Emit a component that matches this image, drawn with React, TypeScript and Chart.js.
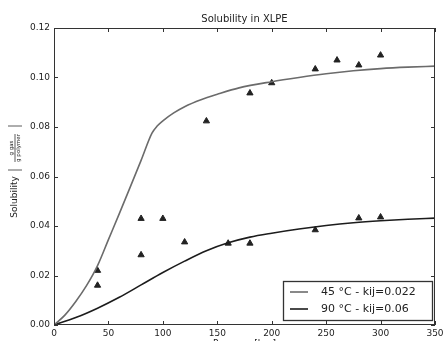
import React, { useEffect, useRef } from "react";
import { Chart, registerables } from "chart.js";

Chart.register(...registerables);

const titleText = "Solubility in XLPE";
const xTitleText = "Pressure [bar]";
const xTicks = [0, 50, 100, 150, 200, 250, 300, 350];
const yTicks = [0, 0.02, 0.04, 0.06, 0.08, 0.1, 0.12];

const label45 = "45 °C - kij=0.022";
const label90 = "90 °C - kij=0.06";

const fit45X = [0, 10, 20, 30, 40, 50, 60, 70, 80, 90, 95, 100, 110, 120, 135, 150, 170, 200, 225, 250, 275, 300, 325, 350];
const fit45Y = [0, 0.004, 0.0095, 0.016, 0.024, 0.0345, 0.045, 0.0557, 0.0665, 0.0775, 0.0805, 0.0825, 0.0857, 0.0882, 0.091, 0.0932, 0.0958, 0.0983, 0.1, 0.1015, 0.1027, 0.1036, 0.1042, 0.1046];

const fit90X = [0, 20, 40, 60, 80, 100, 120, 140, 160, 180, 200, 225, 250, 275, 300, 325, 350];
const fit90Y = [0, 0.003, 0.0068, 0.0112, 0.0162, 0.0212, 0.0258, 0.03, 0.0332, 0.0355, 0.0371, 0.0388, 0.0402, 0.0413, 0.0421, 0.0427, 0.0432];

const pts45X = [40, 80, 100, 140, 180, 200, 240, 260, 280, 300];
const pts45Y = [0.022, 0.043, 0.043, 0.0824, 0.0937, 0.0978, 0.1034, 0.107, 0.105, 0.109];

const pts90X = [40, 80, 120, 160, 180, 240, 280, 300];
const pts90Y = [0.016, 0.0283, 0.0335, 0.033, 0.033, 0.0384, 0.0432, 0.0436];

const color45 = "#6b6b6b";
const color90 = "#1c1c1c";
const pointColor = "#222222";
const FONT = "'DejaVu Sans', sans-serif";

const zip = (xs: number[], ys: number[]) => xs.map((x, i) => ({ x, y: ys[i] }));

const framePlugin = {
  id: "frame",
  afterDraw(chart: any) {
    const { ctx, chartArea } = chart;
    const { left, right, top, bottom } = chartArea;
    const xs = chart.scales.x;
    const ys = chart.scales.y;
    ctx.save();
    // frame
    ctx.strokeStyle = "#333";
    ctx.lineWidth = 1;
    ctx.strokeRect(left + 0.5, top + 0.5, right - left - 1, bottom - top - 1);
    // inward ticks on all sides
    ctx.beginPath();
    xTicks.forEach((v) => {
      const p = Math.round(xs.getPixelForValue(v)) + 0.5;
      ctx.moveTo(p, bottom);
      ctx.lineTo(p, bottom - 4);
      ctx.moveTo(p, top);
      ctx.lineTo(p, top + 4);
    });
    yTicks.forEach((v) => {
      const p = Math.round(ys.getPixelForValue(v)) + 0.5;
      ctx.moveTo(left, p);
      ctx.lineTo(left + 4, p);
      ctx.moveTo(right, p);
      ctx.lineTo(right - 4, p);
    });
    ctx.stroke();

    // title
    ctx.fillStyle = "#222";
    ctx.font = `10px ${FONT}`;
    ctx.textAlign = "center";
    ctx.textBaseline = "middle";
    ctx.fillText(titleText, (left + right) / 2, 19);

    // x axis title (cut off by the bottom edge, as in the reference)
    ctx.font = `9px ${FONT}`;
    ctx.textBaseline = "top";
    ctx.fillText(xTitleText, (left + right) / 2, 339.5);
    ctx.textBaseline = "middle";

    // y axis title (rotated)
    ctx.translate(15, 0);
    ctx.save();
    ctx.translate(0, 197);
    ctx.rotate(-Math.PI / 2);
    ctx.font = `9px ${FONT}`;
    ctx.fillText("Solubility", 0, 0);
    ctx.restore();
    ctx.save();
    ctx.translate(0, 148);
    ctx.rotate(-Math.PI / 2);
    ctx.font = `5.5px ${FONT}`;
    ctx.fillText("g gas", 0, -3.5);
    ctx.fillText("g polymer", 0, 3.5);
    ctx.strokeStyle = "#333";
    ctx.lineWidth = 0.8;
    ctx.beginPath();
    ctx.moveTo(-14, 0);
    ctx.lineTo(14, 0);
    ctx.moveTo(-22, -7);
    ctx.lineTo(-22, 7);
    ctx.moveTo(22, -7);
    ctx.lineTo(22, 7);
    ctx.stroke();
    ctx.restore();
    ctx.restore();

    // legend
    ctx.save();
    const bx = 283.5, by = 281.5, bw = 149, bh = 39;
    ctx.fillStyle = "#fff";
    ctx.fillRect(bx, by, bw, bh);
    ctx.strokeStyle = "#333";
    ctx.lineWidth = 1.3;
    ctx.strokeRect(bx, by, bw, bh);
    const items = chart.data.datasets.filter((d: any) => d.showLine);
    items.forEach((d: any, i: number) => {
      const y = 292 + i * 17;
      ctx.strokeStyle = d.borderColor;
      ctx.lineWidth = 1.6;
      ctx.beginPath();
      ctx.moveTo(290, y);
      ctx.lineTo(308, y);
      ctx.stroke();
      ctx.fillStyle = "#222";
      ctx.font = `11px ${FONT}`;
      ctx.textAlign = "left";
      ctx.textBaseline = "middle";
      ctx.fillText(d.label, 321, y);
    });
    ctx.restore();
  },
};

export default function App() {
  const ref = useRef<HTMLCanvasElement>(null);
  useEffect(() => {
    if (!ref.current) return;
    const chart = new Chart(ref.current, {
      type: "scatter",
      data: {
        datasets: [
          {
            label: label45,
            data: zip(fit45X, fit45Y),
            showLine: true,
            borderColor: color45,
            borderWidth: 1.6,
            pointRadius: 0,
            cubicInterpolationMode: "monotone",
          } as any,
          {
            label: label90,
            data: zip(fit90X, fit90Y),
            showLine: true,
            borderColor: color90,
            borderWidth: 1.6,
            pointRadius: 0,
            cubicInterpolationMode: "monotone",
          } as any,
          {
            label: "45 °C data",
            data: zip(pts45X, pts45Y),
            showLine: false,
            pointStyle: "triangle",
            pointRadius: 3.6,
            backgroundColor: pointColor,
            borderColor: pointColor,
            borderWidth: 1,
          } as any,
          {
            label: "90 °C data",
            data: zip(pts90X, pts90Y),
            showLine: false,
            pointStyle: "triangle",
            pointRadius: 3.6,
            backgroundColor: pointColor,
            borderColor: pointColor,
            borderWidth: 1,
          } as any,
        ],
      },
      options: {
        responsive: false,
        animation: false,
        layout: { padding: { top: 28, right: 13, left: 0, bottom: 0 } },
        plugins: {
          legend: { display: false },
          title: { display: false },
          tooltip: { enabled: false },
        },
        scales: {
          x: {
            type: "linear",
            min: 0,
            max: 350,
            afterFit: (s: any) => {
              s.height = 16;
            },
            afterBuildTicks: (s: any) => {
              s.ticks = xTicks.map((v) => ({ value: v }));
            },
            grid: { display: false, drawTicks: false },
            border: { display: false },
            ticks: {
              padding: 3,
              color: "#222",
              font: { family: FONT, size: 9 },
              maxRotation: 0,
              callback: (v: any) => String(v),
            },
          },
          y: {
            type: "linear",
            min: 0,
            max: 0.12,
            afterFit: (s: any) => {
              s.width = 54;
            },
            afterBuildTicks: (s: any) => {
              s.ticks = yTicks.map((v) => ({ value: v }));
            },
            grid: { display: false, drawTicks: false },
            border: { display: false },
            ticks: {
              padding: 4,
              color: "#222",
              font: { family: FONT, size: 9 },
              callback: (v: any) => Number(v).toFixed(2),
            },
          },
        },
      },
      plugins: [framePlugin],
    } as any);
    return () => chart.destroy();
  }, []);
  return (
    <div style={{ position: "fixed", left: 0, top: 0, width: 448, height: 341, background: "#fff" }}>
      <canvas ref={ref} width={448} height={341} style={{ width: 448, height: 341, display: "block" }} />
    </div>
  );
}
